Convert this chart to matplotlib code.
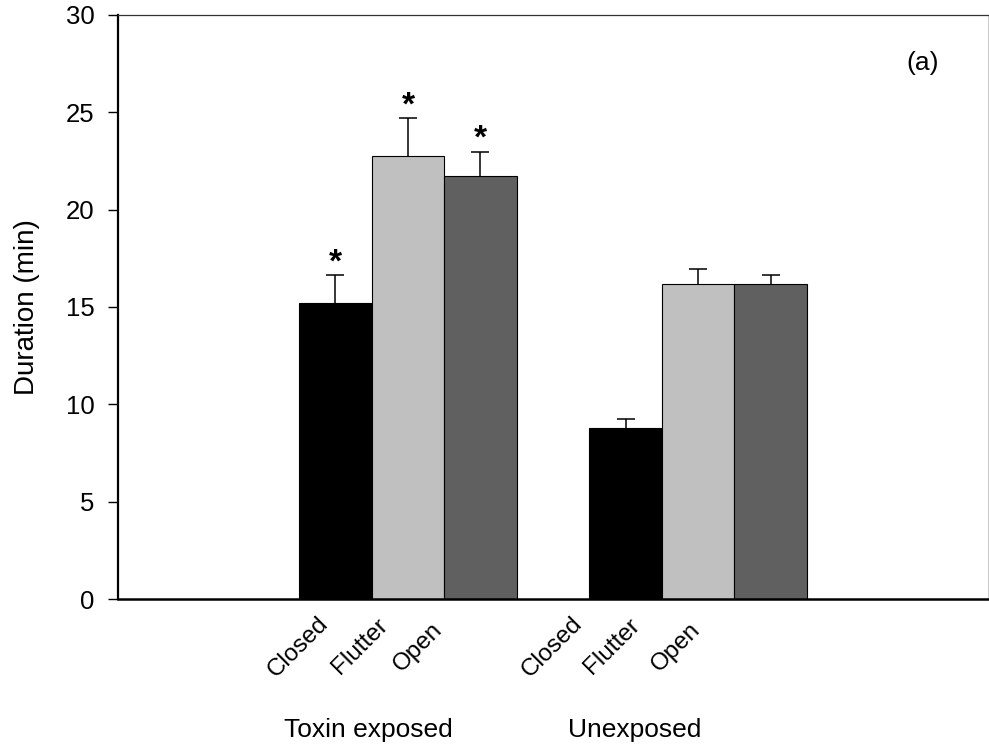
import numpy as np
import matplotlib.pyplot as plt
from matplotlib import transforms

plt.rcParams['font.family'] = ['Liberation Sans', 'DejaVu Sans']

# datos
grupos = ['Toxin exposed', 'Unexposed']
estados = ['Closed', 'Flutter', 'Open']
duracion = [[15.2, 22.75, 21.72],
            [8.77, 16.16, 16.16]]
error = [[1.42, 1.94, 1.24],
         [0.47, 0.79, 0.47]]
significativo = [[True, True, True],
                 [False, False, False]]
colores = ['#000000', '#c0c0c0', '#606060']

fig = plt.figure(figsize=(9.89, 7.53), dpi=100)
ax = fig.add_axes([0.1193, 0.2045, 0.8797, 0.7756])

# posiciones de las etiquetas (desplazamiento respecto a la barra)
desplaz_etiqueta = [[-0.52, -0.66, -0.86], [-1.01, -1.19, -1.30]]
centro_grupo = [0.45, 4.13]
trans = transforms.blended_transform_factory(ax.transData, ax.transAxes)

for g in range(len(grupos)):
    x = np.arange(3) + 4 * g
    ax.bar(x, duracion[g], width=1.0, color=colores, edgecolor='black', linewidth=0.8, zorder=2)
    _, caps, _ = ax.errorbar(x, duracion[g], yerr=[np.zeros(3), error[g]], fmt='none',
                             ecolor='black', elinewidth=1.1, capsize=6.5, capthick=1.1, zorder=3)
    # solo la barra de error superior
    for c in caps:
        if np.allclose(c.get_ydata(), duracion[g]):
            c.set_visible(False)
    for i in range(3):
        if significativo[g][i]:
            ax.annotate('*', (x[i], duracion[g][i] + error[g][i]), xytext=(0, 9),
                        textcoords='offset points', ha='center', va='center',
                        fontsize=24, fontweight='bold')
        ax.text(x[i] + desplaz_etiqueta[g][i], -0.082, estados[i], rotation=45,
                ha='center', va='center', fontsize=17.5, transform=trans)
    ax.text(centro_grupo[g], -0.224, grupos[g], ha='center', va='center', fontsize=19,
            transform=trans)

ax.set_xlim(-3, 9)
ax.set_ylim(0, 30)
ax.set_yticks(np.arange(0, 31, 5))
ax.set_xticks([])
ax.tick_params(axis='y', direction='out', length=7, width=1, labelsize=18.5, pad=10)
ax.set_ylabel('Duration (min)', fontsize=20)
ax.yaxis.set_label_coords(-0.09, 0.5)

ax.spines['left'].set_linewidth(1.6)
ax.spines['bottom'].set_linewidth(1.8)
ax.spines['top'].set_linewidth(0.9)
ax.spines['top'].set_color('#333333')
ax.spines['right'].set_linewidth(0.8)
ax.spines['right'].set_color('#cccccc')

ax.text(0.925, 0.918, '(a)', transform=ax.transAxes, ha='center', va='center', fontsize=19)

plt.savefig('out.png', dpi=100)
